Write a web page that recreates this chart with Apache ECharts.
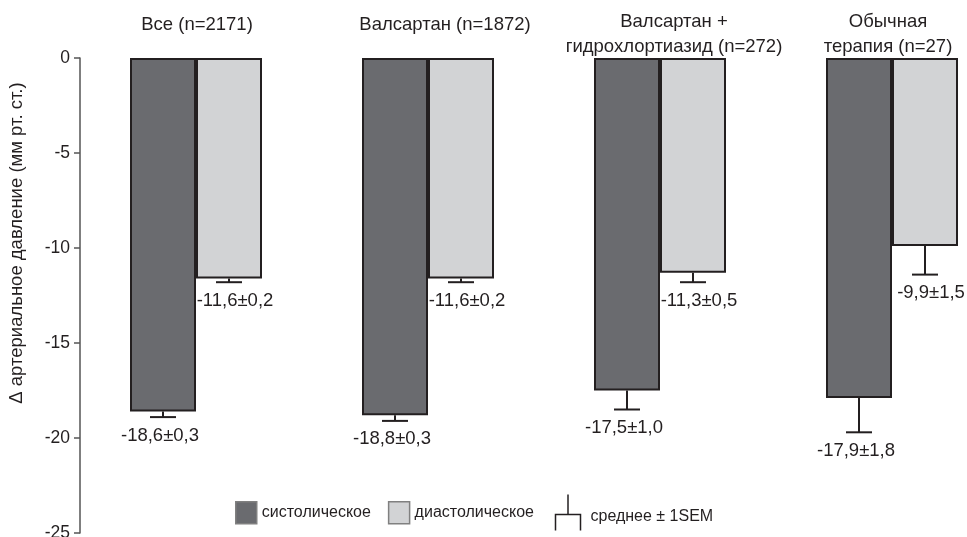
<!DOCTYPE html>
<html>
<head>
<meta charset="utf-8">
<script src="https://cdn.jsdelivr.net/npm/echarts@6/dist/echarts.min.js"></script>
<style>
  html, body { margin: 0; padding: 0; background: #ffffff; }
  #chart { width: 967px; height: 537px; }
</style>
</head>
<body>
<div id="chart"></div>
<script>
// Group headings (also used as the category axis data)
const groupTitles = [
  'Все (n=2171)',
  'Валсартан (n=1872)',
  'Валсартан +\nгидрохлортиазид (n=272)',
  'Обычная\nтерапия (n=27)'
];

// Change in blood pressure, mean and SEM (mm Hg)
const systolicMean = [-18.6, -18.8, -17.5, -17.9];
const systolicSem = [0.3, 0.3, 1.0, 1.8];
const diastolicMean = [-11.6, -11.6, -11.3, -9.9];
const diastolicSem = [0.2, 0.2, 0.5, 1.5];

// Value axis ticks
const yMin = -25;
const yMax = 0;
const yStep = 5;

const seriesNames = ['систолическое', 'диастолическое'];
const errorLegendText = 'среднее ± 1SEM';
const axisTitle = 'Δ артериальное давление (мм рт. ст.)';

const FONT = "'Liberation Sans', Arial, Helvetica, sans-serif";
const INK = '#231f20';
const DARK = '#6a6b6f';
const LIGHT = '#d2d3d5';
const BAR_W = 66;
const MAIN_FS = 18.5;

function fmt(v) {
  return v.toFixed(1).replace('.', ',');
}

// [category, mean, sem, side(-1 left / +1 right), label]
const errorData = [];
systolicMean.forEach((m, i) => {
  errorData.push([i, m, systolicSem[i], -1, fmt(m) + '±' + fmt(systolicSem[i])]);
});
diastolicMean.forEach((m, i) => {
  errorData.push([i, m, diastolicSem[i], 1, fmt(m) + '±' + fmt(diastolicSem[i])]);
});

function renderError(params, api) {
  const cat = api.value(0);
  const mean = api.value(1);
  const sem = api.value(2);
  const side = api.value(3);
  const text = errorData[params.dataIndex][4];
  const p0 = api.coord([cat, mean]);
  const p1 = api.coord([cat, mean - sem]);
  const x = p0[0] + side * BAR_W / 2;
  const half = 13;
  const lineStyle = { stroke: INK, lineWidth: 2, fill: null };
  return {
    type: 'group',
    children: [
      { type: 'line', shape: { x1: x, y1: p0[1], x2: x, y2: p1[1] }, style: lineStyle },
      { type: 'line', shape: { x1: x - half, y1: p1[1], x2: x + half, y2: p1[1] }, style: lineStyle },
      {
        type: 'text',
        x: x + (side < 0 ? -3 : 6),
        y: p1[1] + 9,
        style: {
          text: text,
          fill: INK,
          font: MAIN_FS + 'px ' + FONT,
          align: 'center',
          verticalAlign: 'top'
        }
      }
    ]
  };
}

const chart = echarts.init(document.getElementById('chart'), null, { renderer: 'canvas' });

const option = {
  animation: false,
  backgroundColor: '#ffffff',
  textStyle: { fontFamily: FONT, color: INK },
  grid: { left: 80, top: 58, bottom: 4, width: 928, containLabel: false, outerBoundsMode: 'none' },
  legend: {
    left: 235,
    top: 501,
    padding: 0,
    itemWidth: 21,
    itemHeight: 22,
    itemGap: 17,
    icon: 'rect',
    textStyle: { fontSize: 16, color: INK, fontFamily: FONT },
    data: [
      { name: seriesNames[0], itemStyle: { borderColor: '#808080', borderWidth: 1.5 } },
      { name: seriesNames[1], itemStyle: { borderColor: '#808080', borderWidth: 1.5 } }
    ]
  },
  xAxis: {
    type: 'category',
    data: groupTitles,
    show: false
  },
  yAxis: {
    type: 'value',
    min: yMin,
    max: yMax,
    interval: yStep,
    axisLine: { show: true, lineStyle: { color: '#555555', width: 1.5 } },
    axisTick: { show: true, length: 6, lineStyle: { color: '#555555', width: 1.5 } },
    axisLabel: { fontSize: 17.5, color: INK, margin: 10, fontFamily: FONT },
    splitLine: { show: false }
  },
  series: [
    {
      name: seriesNames[0],
      type: 'bar',
      data: systolicMean,
      barWidth: BAR_W,
      barGap: '0%',
      itemStyle: { color: DARK, borderColor: INK, borderWidth: 2 }
    },
    {
      name: seriesNames[1],
      type: 'bar',
      data: diastolicMean,
      barWidth: BAR_W,
      barGap: '0%',
      itemStyle: { color: LIGHT, borderColor: INK, borderWidth: 2 }
    },
    {
      name: errorLegendText,
      type: 'custom',
      renderItem: renderError,
      data: errorData.map(d => d.slice(0, 4)),
      encode: { x: 0, y: 1 },
      z: 5
    }
  ]
};

chart.setOption(option);

// Group headings, the rotated axis title and the error-bar key
const titleShift = [1, 17, 14, -4];
const graphics = [];
groupTitles.forEach((t, i) => {
  const cx = chart.convertToPixel({ xAxisIndex: 0 }, i);
  const twoLines = t.indexOf('\n') >= 0;
  graphics.push({
    type: 'text',
    x: cx + titleShift[i],
    y: twoLines ? 34.5 : 25,
    style: {
      text: t,
      fill: INK,
      font: MAIN_FS + 'px ' + FONT,
      lineHeight: 25,
      align: 'center',
      verticalAlign: 'middle'
    }
  });
});
graphics.push({
  type: 'text',
  x: 17,
  y: 243,
  rotation: Math.PI / 2,
  style: {
    text: axisTitle,
    fill: INK,
    font: MAIN_FS + 'px ' + FONT,
    align: 'center',
    verticalAlign: 'middle'
  }
});
graphics.push({
  type: 'group',
  left: 553,
  top: 492,
  children: [
    { type: 'line', shape: { x1: 12.5, y1: 0, x2: 12.5, y2: 20 }, style: { stroke: INK, lineWidth: 1.5 } },
    { type: 'polyline', shape: { points: [[0, 36], [0, 20], [25, 20], [25, 36]] }, style: { stroke: INK, lineWidth: 1.5, fill: null } },
    { type: 'text', x: 35, y: 22, style: { text: errorLegendText, fill: INK, font: '16px ' + FONT, verticalAlign: 'middle' } }
  ]
});
chart.setOption({ graphic: graphics });
</script>
</body>
</html>
